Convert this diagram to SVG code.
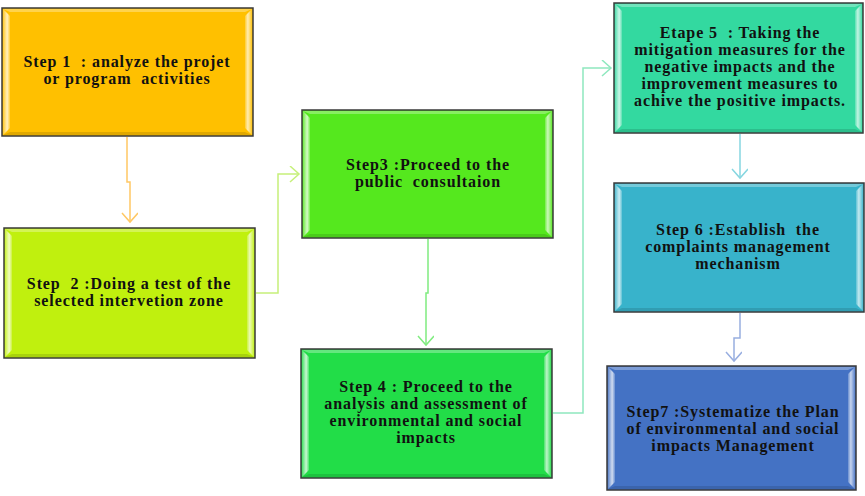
<svg xmlns="http://www.w3.org/2000/svg" width="865" height="496" viewBox="0 0 865 496">
<defs>
<linearGradient id="gl" x1="0" y1="0" x2="1" y2="0">
<stop offset="0" stop-color="#fff" stop-opacity="0.15"/>
<stop offset="0.6" stop-color="#fff" stop-opacity="0.75"/>
<stop offset="1" stop-color="#fff" stop-opacity="0.2"/>
</linearGradient>
<linearGradient id="gr" x1="1" y1="0" x2="0" y2="0">
<stop offset="0" stop-color="#fff" stop-opacity="0.1"/>
<stop offset="0.6" stop-color="#fff" stop-opacity="0.7"/>
<stop offset="1" stop-color="#fff" stop-opacity="0.2"/>
</linearGradient>
<marker id="a1" markerWidth="20" markerHeight="20" refX="10" refY="8" orient="auto" markerUnits="userSpaceOnUse" viewBox="0 0 20 20"><path d="M1,0 L10,8 L1,16" fill="none" stroke="#FFC864" stroke-width="1.5"/></marker>
<marker id="a2" markerWidth="20" markerHeight="20" refX="10" refY="8" orient="auto" markerUnits="userSpaceOnUse" viewBox="0 0 20 20"><path d="M1,0 L10,8 L1,16" fill="none" stroke="#C6F07A" stroke-width="1.5"/></marker>
<marker id="a3" markerWidth="20" markerHeight="20" refX="10" refY="8" orient="auto" markerUnits="userSpaceOnUse" viewBox="0 0 20 20"><path d="M1,0 L10,8 L1,16" fill="none" stroke="#80EC80" stroke-width="1.5"/></marker>
<marker id="a4" markerWidth="20" markerHeight="20" refX="10" refY="8" orient="auto" markerUnits="userSpaceOnUse" viewBox="0 0 20 20"><path d="M1,0 L10,8 L1,16" fill="none" stroke="#8EE8BE" stroke-width="1.5"/></marker>
<marker id="a5" markerWidth="20" markerHeight="20" refX="10" refY="8" orient="auto" markerUnits="userSpaceOnUse" viewBox="0 0 20 20"><path d="M1,0 L10,8 L1,16" fill="none" stroke="#86D6E0" stroke-width="1.5"/></marker>
<marker id="a6" markerWidth="20" markerHeight="20" refX="10" refY="8" orient="auto" markerUnits="userSpaceOnUse" viewBox="0 0 20 20"><path d="M1,0 L10,8 L1,16" fill="none" stroke="#98AEE0" stroke-width="1.5"/></marker>
</defs>
<style>
.box{stroke:#3a3a3a;stroke-width:1.5}
.top{fill:#fff;fill-opacity:0.3}
.bot{fill:#000;fill-opacity:0.12}
.t{font-family:"Liberation Serif","Times New Roman",serif;font-weight:bold;font-size:16px;fill:#111;text-anchor:middle;white-space:pre;letter-spacing:0.9px}
.c{fill:none;stroke-width:1.5}
</style>
<rect width="865" height="496" fill="#fff"/>
<g id="connectors">
<polyline class="c" stroke="#FFC864" points="127,137 127,182 130,182 130,222" marker-end="url(#a1)"/>
<polyline class="c" stroke="#C6F07A" points="256,293 278,293 278,174 299,174" marker-end="url(#a2)"/>
<polyline class="c" stroke="#80EC80" points="428,239 428,293 426,293 426,345" marker-end="url(#a3)"/>
<polyline class="c" stroke="#8EE8BE" points="553,413 583,413 583,68 611,68" marker-end="url(#a4)"/>
<polyline class="c" stroke="#86D6E0" points="740,134 740,178" marker-end="url(#a5)"/>
<polyline class="c" stroke="#98AEE0" points="740,313 740,338 734,338 734,361" marker-end="url(#a6)"/>
</g>
<g id="step1">
<rect class="box" x="2" y="8" width="251" height="128" fill="#FFC000"/>
<polygon fill="url(#gl)" points="3,9 10,16 10,128 3,135"/>
<polygon fill="url(#gr)" points="252,9 245,16 245,128 252,135"/>
<polygon class="top" points="3,9 252,9 245,12 10,12"/>
<polygon class="bot" points="3,135 252,135 245,132 10,132"/>
<text class="t" x="127" y="67">Step 1  : analyze the projet</text>
<text class="t" x="127" y="84">or program  activities</text>
</g>
<g id="step2">
<rect class="box" x="4" y="228" width="251" height="130" fill="#C0F00E"/>
<polygon fill="url(#gl)" points="5,229 12,236 12,350 5,357"/>
<polygon fill="url(#gr)" points="254,229 247,236 247,350 254,357"/>
<polygon class="top" points="5,229 254,229 247,232 12,232"/>
<polygon class="bot" points="5,357 254,357 247,354 12,354"/>
<text class="t" x="129" y="289">Step  2 :Doing a test of the</text>
<text class="t" x="129" y="306">selected intervetion zone</text>
</g>
<g id="step3">
<rect class="box" x="302" y="110" width="251" height="128" fill="#55E81E"/>
<polygon fill="url(#gl)" points="303,111 310,118 310,230 303,237"/>
<polygon fill="url(#gr)" points="552,111 545,118 545,230 552,237"/>
<polygon class="top" points="303,111 552,111 545,114 310,114"/>
<polygon class="bot" points="303,237 552,237 545,234 310,234"/>
<text class="t" x="428" y="170">Step3 :Proceed to the</text>
<text class="t" x="428" y="187">public  consultaion</text>
</g>
<g id="step4">
<rect class="box" x="301" y="349" width="251" height="129" fill="#22DD48"/>
<polygon fill="url(#gl)" points="302,350 309,357 309,470 302,477"/>
<polygon fill="url(#gr)" points="551,350 544,357 544,470 551,477"/>
<polygon class="top" points="302,350 551,350 544,353 309,353"/>
<polygon class="bot" points="302,477 551,477 544,474 309,474"/>
<text class="t" x="426" y="392">Step 4 : Proceed to the</text>
<text class="t" x="426" y="409">analysis and assessment of</text>
<text class="t" x="426" y="426">environmental and social</text>
<text class="t" x="426" y="443">impacts</text>
</g>
<g id="step5">
<rect class="box" x="614" y="3" width="249" height="130" fill="#33D9A0"/>
<polygon fill="url(#gl)" points="615,4 622,11 622,125 615,132"/>
<polygon fill="url(#gr)" points="862,4 855,11 855,125 862,132"/>
<polygon class="top" points="615,4 862,4 855,7 622,7"/>
<polygon class="bot" points="615,132 862,132 855,129 622,129"/>
<text class="t" x="740" y="38">Etape 5  : Taking the</text>
<text class="t" x="740" y="55">mitigation measures for the</text>
<text class="t" x="740" y="72">negative impacts and the</text>
<text class="t" x="740" y="89">improvement measures to</text>
<text class="t" x="740" y="106">achive the positive impacts.</text>
</g>
<g id="step6">
<rect class="box" x="614" y="183" width="250" height="129" fill="#38B3CB"/>
<polygon fill="url(#gl)" points="615,184 622,191 622,304 615,311"/>
<polygon fill="url(#gr)" points="863,184 856,191 856,304 863,311"/>
<polygon class="top" points="615,184 863,184 856,187 622,187"/>
<polygon class="bot" points="615,311 863,311 856,308 622,308"/>
<text class="t" x="738" y="235">Step 6 :Establish  the</text>
<text class="t" x="738" y="252">complaints management</text>
<text class="t" x="738" y="269">mechanism</text>
</g>
<g id="step7">
<rect class="box" x="607" y="366" width="249" height="124" fill="#4472C4"/>
<polygon fill="url(#gl)" points="608,367 615,374 615,482 608,489"/>
<polygon fill="url(#gr)" points="855,367 848,374 848,482 855,489"/>
<polygon class="top" points="608,367 855,367 848,370 615,370"/>
<polygon class="bot" points="608,489 855,489 848,486 615,486"/>
<text class="t" x="733" y="417">Step7 :Systematize the Plan</text>
<text class="t" x="733" y="434">of environmental and social</text>
<text class="t" x="733" y="451">impacts Management</text>
</g>
</svg>
